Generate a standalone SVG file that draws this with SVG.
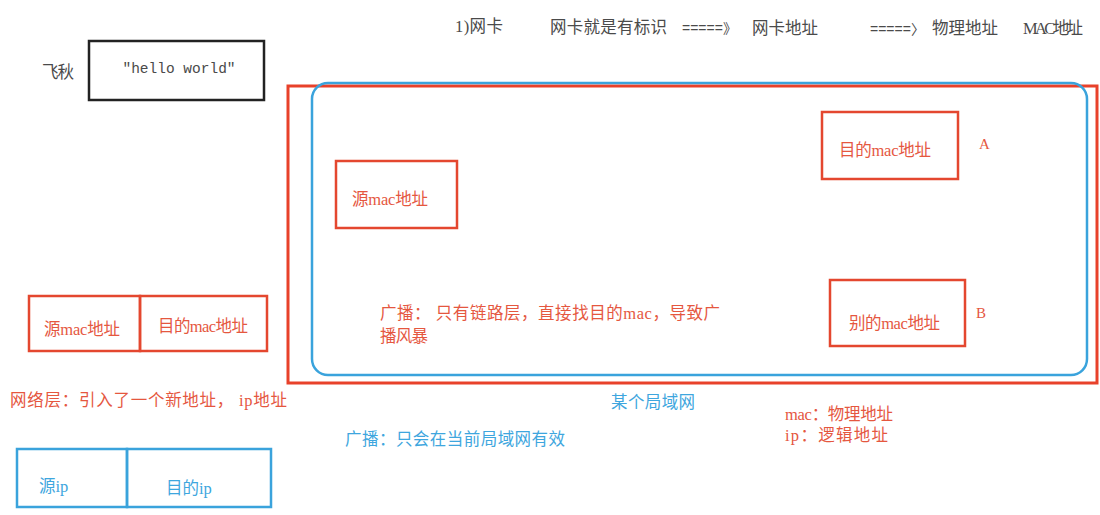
<svg xmlns="http://www.w3.org/2000/svg" width="1100" height="515" viewBox="0 0 1100 515">
<style>
text{font-family:"Liberation Serif","Noto Sans CJK SC",serif;font-size:16.5px}
.k{fill:#4a4a4a}
.r{fill:#e5573f}
.b{fill:#3ea6de}
.sm{font-size:15px}
.eq{font-family:"Liberation Sans","Noto Sans CJK SC",sans-serif;font-size:14px}
.rb{fill:none;stroke:#e4472f;stroke-width:2.5}
.bb{fill:none;stroke:#3aa3dc;stroke-width:2.5}
.mono{font-family:"Liberation Mono","Noto Sans CJK SC",monospace;font-size:14.5px}
</style>
<rect width="1100" height="515" fill="#ffffff"/>
<g id="header">
<text class="k" x="455" y="32" textLength="48">1)网卡</text>
<text class="k" x="550" y="33" textLength="117">网卡就是有标识</text>
<text class="k eq" x="682" y="33">=====》</text>
<text class="k" x="752" y="34" textLength="66">网卡地址</text>
<text class="k eq" x="870" y="34">=====〉</text>
<text class="k" x="932" y="34" textLength="66">物理地址</text>
<text class="k" x="1023" y="34" textLength="60">MAC地址</text>
</g>
<g id="feiqiu">
<text class="k" x="42" y="78" textLength="32">飞秋</text>
<rect x="89" y="41" width="175" height="59" fill="none" stroke="#222" stroke-width="2.5"/>
<text class="k mono" x="179" y="73" text-anchor="middle">"hello world"</text>
</g>
<g id="lan">
<rect x="288" y="86" width="809" height="297" fill="none" stroke="#e8412a" stroke-width="3"/>
<rect x="312" y="83" width="775" height="292" rx="16" fill="none" stroke="#3aa3dc" stroke-width="2.5"/>
<text class="b" x="611" y="408" textLength="84">某个局域网</text>
</g>
<g id="src-mac">
<rect class="rb" x="336" y="161" width="121" height="67"/>
<text class="r" x="352" y="205" textLength="76">源mac地址</text>
</g>
<g id="dst-mac">
<rect class="rb" x="822" y="112" width="136" height="67"/>
<text class="r" x="839" y="156" textLength="92">目的mac地址</text>
<text class="r sm" x="979" y="149">A</text>
</g>
<g id="other-mac">
<rect class="rb" x="830" y="280" width="135" height="66"/>
<text class="r" x="849" y="329" textLength="91">别的mac地址</text>
<text class="r sm" x="976" y="318">B</text>
</g>
<g id="broadcast-note">
<text class="r" x="380" y="319" textLength="340">广播：  只有链路层，直接找目的mac，导致广</text>
<text class="r" x="380" y="342" textLength="48">播风暴</text>
</g>
<g id="mac-frame">
<rect class="rb" x="29" y="296" width="111" height="55"/>
<rect class="rb" x="140" y="296" width="127" height="55"/>
<text class="r" x="44" y="335" textLength="76">源mac地址</text>
<text class="r" x="158" y="332" textLength="90">目的mac地址</text>
</g>
<text class="r" x="10" y="406" textLength="277">网络层：引入了一个新地址，  ip地址</text>
<text class="b" x="345" y="445" textLength="220">广播：只会在当前局域网有效</text>
<g id="legend">
<text class="r" x="785" y="420" textLength="108">mac：物理地址</text>
<text class="r" x="785" y="441" textLength="103">ip：逻辑地址</text>
</g>
<g id="ip-frame">
<rect class="bb" x="17" y="449" width="110" height="58"/>
<rect class="bb" x="127" y="449" width="144" height="58"/>
<text class="b" x="39" y="492">源ip</text>
<text class="b" x="166" y="494">目的ip</text>
</g>
<g id="connectors"></g>
</svg>
